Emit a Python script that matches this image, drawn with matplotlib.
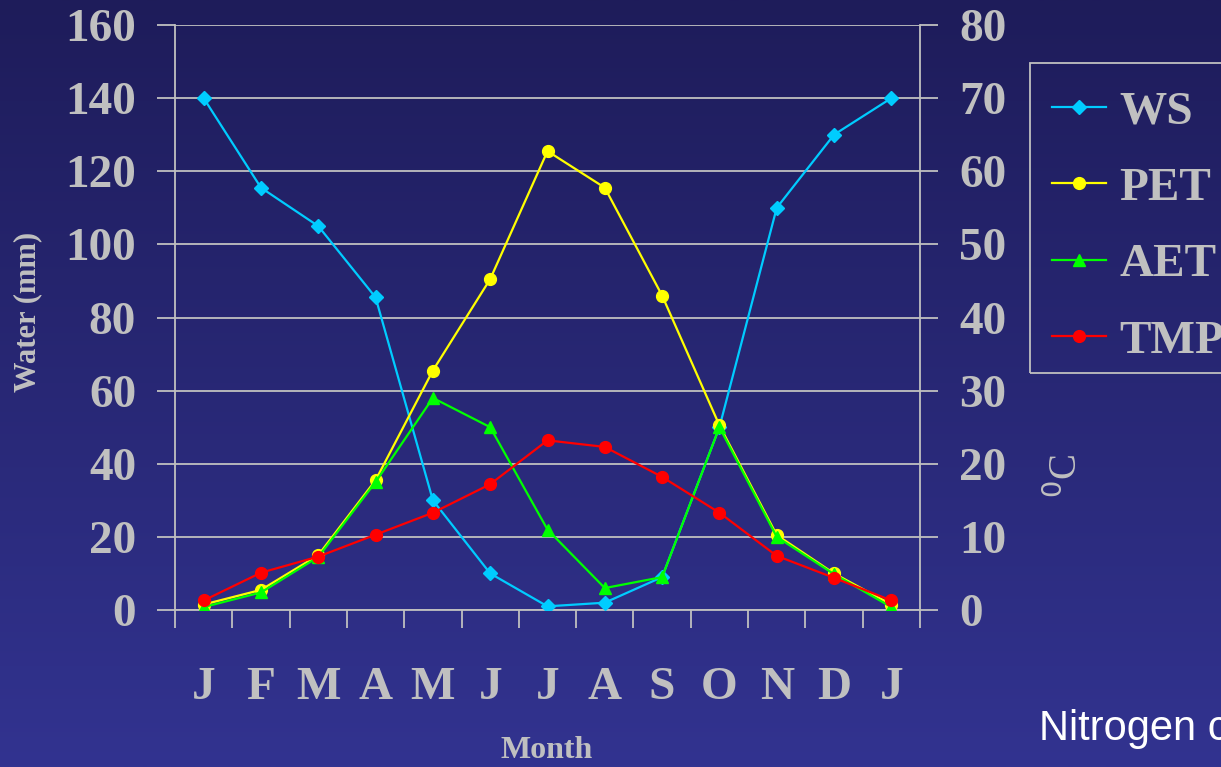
import numpy as np
import matplotlib
matplotlib.use("Agg")
import matplotlib.pyplot as plt
from matplotlib.ticker import FixedLocator
from matplotlib.patches import Rectangle

months = ["J", "F", "M", "A", "M", "J", "J", "A", "S", "O", "N", "D", "J"]
ws = [140, 115.5, 105, 85.5, 30, 10, 1, 2, 9, 50, 110, 130, 140]
pet = [1.5, 5.5, 15, 35.5, 65.5, 90.5, 125.5, 115.5, 86, 50.5, 20.5, 10, 1.5]
aet = [0.8, 4.8, 14.5, 35, 58, 50, 22, 6, 9, 50, 20, 9.8, 0.8]
tmp = [1.3, 5.1, 7.3, 10.3, 13.3, 17.2, 23.2, 22.3, 18.2, 13.3, 7.4, 4.4, 1.3]
water_ticks = list(range(0, 161, 20))
temp_ticks = list(range(0, 81, 10))

GREY = "#c0c0c0"
SERIF = "Liberation Serif"

W, H = 1221, 767
fig = plt.figure(figsize=(W / 100, H / 100), dpi=100)

# vertical navy gradient background
bg = fig.add_axes([0, 0, 1, 1], zorder=-10)
top = np.array([0x1e, 0x1c, 0x5a]) / 255
bot = np.array([0x32, 0x33, 0x90]) / 255
t = np.linspace(0, 1, 256)[:, None]
grad = top[None, :] * (1 - t) + bot[None, :] * t
bg.imshow(grad[:, None, :], aspect="auto", extent=[0, 1, 0, 1], origin="upper")
bg.set_axis_off()

left, right, bottom, topy = 175, 920, 610, 25
ax = fig.add_axes([left / W, 1 - bottom / H, (right - left) / W, (bottom - topy) / H])
ax.set_facecolor("none")
x = np.arange(len(months))

ax.set_xlim(-0.5, len(months) - 0.5)
ax.set_ylim(0, 160)
ax.set_yticks(water_ticks)
ax.yaxis.grid(True, color=GREY, lw=1.3)
ax.set_axisbelow(True)
ax.set_xticks(x)
ax.set_xticklabels(months)
ax.xaxis.set_minor_locator(FixedLocator(np.arange(-0.5, len(months), 1)))
ax.tick_params(axis="x", which="major", length=0, pad=41, labelsize=34, labelcolor=GREY)
ax.tick_params(axis="x", which="minor", length=13, width=1.3, color=GREY, direction="out")
ax.tick_params(axis="y", length=13, width=1.3, color=GREY, pad=15, labelsize=34, labelcolor=GREY)
for lab in ax.get_xticklabels() + ax.get_yticklabels():
    lab.set_fontfamily(SERIF)
    lab.set_fontweight("bold")
for s in ["left", "right", "bottom"]:
    ax.spines[s].set_color(GREY)
    ax.spines[s].set_linewidth(1.3)
ax.spines["top"].set_visible(False)

lw, ms = 1.6, 8.5
l1, = ax.plot(x, ws, color="#00ccff", lw=lw, marker="D", ms=ms - 1.5, label="WS", zorder=3)
l2, = ax.plot(x, pet, color="#ffff00", lw=lw, marker="o", ms=ms, label="PET", zorder=3)
l3, = ax.plot(x, aet, color="#00ff00", lw=lw, marker="^", ms=ms + 0.5, label="AET", zorder=4)

ax2 = ax.twinx()
ax2.set_ylim(0, 80)
ax2.set_yticks(temp_ticks)
ax2.tick_params(axis="y", length=13, width=1.3, color=GREY, pad=15, labelsize=34, labelcolor=GREY)
for lab in ax2.get_yticklabels():
    lab.set_fontfamily(SERIF)
    lab.set_fontweight("bold")
for s in ax2.spines.values():
    s.set_visible(False)
l4, = ax2.plot(x, tmp, color="#ff0000", lw=lw, marker="o", ms=ms, label="TMP", zorder=5)

fig.text(28 / W, 1 - 312 / H, "Water (mm)", rotation=90, ha="center", va="center",
         fontsize=22, fontweight="bold", family=SERIF, color=GREY)
fig.text(547 / W, 1 - 751 / H, "Month", ha="center", va="center",
         fontsize=23, fontweight="bold", family=SERIF, color=GREY)
fig.text(1066 / W, 1 - 476 / H, r"$^{0}$C", rotation=90, ha="center", va="center",
         fontsize=28, family=SERIF, color=GREY)
fig.text(1039 / W, 1 - 740 / H, "Nitrogen c", ha="left", va="baseline",
         fontsize=30, family="Liberation Sans", color="white")

# legend box outline, then entries placed inside it
fig.patches.append(Rectangle((1030 / W, 1 - 373 / H), 220 / W, 310 / H,
                             transform=fig.transFigure, fill=False,
                             edgecolor=GREY, lw=1.3))
leg = fig.legend(handles=[l1, l2, l3, l4], loc="upper left",
                 bbox_to_anchor=(1052 / W, 1 - 90 / H), bbox_transform=fig.transFigure,
                 frameon=False, borderaxespad=0, borderpad=0,
                 handlelength=1.15, handletextpad=0.28, labelspacing=0.71,
                 prop={"family": SERIF, "weight": "bold", "size": 34})
for txt in leg.get_texts():
    txt.set_color(GREY)

fig.savefig("out.png", dpi=100)
